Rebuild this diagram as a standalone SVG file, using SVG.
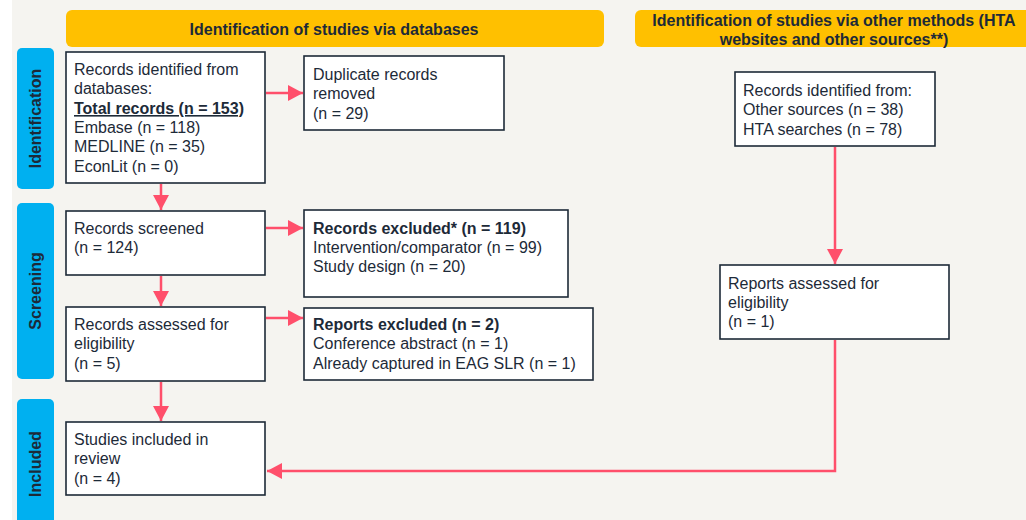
<svg xmlns="http://www.w3.org/2000/svg" width="1026" height="520" viewBox="0 0 1026 520">
<style>
.t{font-family:"Liberation Sans",Arial,sans-serif;font-size:16px;fill:#1d2a38}
.b{font-weight:bold}
.box{fill:#ffffff;stroke:#1d2a38;stroke-width:1.6}
.hdr{fill:#ffc000}
.lane{fill:#00b0f0}
.lt{font-family:"Liberation Sans",Arial,sans-serif;font-size:16px;font-weight:bold;fill:#1d2a38;text-anchor:middle}
.c{fill:none;stroke:#ff4f6b;stroke-width:2.5}
</style>
<defs>
<marker id="ah" markerUnits="userSpaceOnUse" markerWidth="16" markerHeight="16" refX="15" refY="8" orient="auto">
<path d="M0,0 L15,8 L0,16 Z" fill="#ff4f6b"/>
</marker>
</defs>
<rect x="0" y="0" width="1026" height="520" fill="#ffffff"/>
<rect x="12" y="0" width="1014" height="520" fill="#f5f4f0"/>

<g id="header-databases">
<rect class="hdr" x="66" y="10" width="538" height="37" rx="6"/>
<text class="t b" x="334" y="35" text-anchor="middle">Identification of studies via databases</text>
</g>
<g id="header-other">
<rect class="hdr" x="635" y="10" width="400" height="37" rx="6"/>
<text class="t b" x="834" y="26" text-anchor="middle">Identification of studies via other methods (HTA</text>
<text class="t b" x="834" y="45" text-anchor="middle">websites and other sources**)</text>
</g>

<g id="lane-identification">
<rect class="lane" x="17" y="48" width="37" height="141" rx="5"/>
<text class="lt" transform="translate(41,118.5) rotate(-90)">Identification</text>
</g>
<g id="lane-screening">
<rect class="lane" x="17" y="203" width="37" height="176" rx="5"/>
<text class="lt" transform="translate(41,291) rotate(-90)">Screening</text>
</g>
<g id="lane-included">
<rect class="lane" x="17" y="399" width="37" height="130" rx="5"/>
<text class="lt" transform="translate(41,464) rotate(-90)">Included</text>
</g>

<g id="records-identified">
<rect class="box" x="66" y="52" width="199" height="131"/>
<text class="t" x="74" y="75">Records identified from</text>
<text class="t" x="74" y="94">databases:</text>
<text class="t b" x="74" y="114" text-decoration="underline">Total records (n = 153)</text>
<text class="t" x="74" y="133">Embase (n = 118)</text>
<text class="t" x="74" y="152">MEDLINE (n = 35)</text>
<text class="t" x="74" y="172">EconLit (n = 0)</text>
</g>
<g id="duplicates">
<rect class="box" x="304" y="56" width="200" height="74"/>
<text class="t" x="313" y="80">Duplicate records</text>
<text class="t" x="313" y="99">removed</text>
<text class="t" x="313" y="119">(n = 29)</text>
</g>
<g id="screened">
<rect class="box" x="66" y="211" width="199" height="64"/>
<text class="t" x="74" y="234">Records screened</text>
<text class="t" x="74" y="253">(n = 124)</text>
</g>
<g id="excluded">
<rect class="box" x="304" y="210" width="264" height="87"/>
<text class="t b" x="313" y="234">Records excluded* (n = 119)</text>
<text class="t" x="313" y="253">Intervention/comparator (n = 99)</text>
<text class="t" x="313" y="272">Study design (n = 20)</text>
</g>
<g id="assessed">
<rect class="box" x="66" y="307" width="199" height="74"/>
<text class="t" x="74" y="330">Records assessed for</text>
<text class="t" x="74" y="349">eligibility</text>
<text class="t" x="74" y="369">(n = 5)</text>
</g>
<g id="reports-excluded">
<rect class="box" x="304" y="308" width="289" height="72"/>
<text class="t b" x="313" y="330">Reports excluded (n = 2)</text>
<text class="t" x="313" y="349">Conference abstract (n = 1)</text>
<text class="t" x="313" y="369">Already captured in EAG SLR (n = 1)</text>
</g>
<g id="included">
<rect class="box" x="66" y="422" width="199" height="73"/>
<text class="t" x="74" y="445">Studies included in</text>
<text class="t" x="74" y="464">review</text>
<text class="t" x="74" y="484">(n = 4)</text>
</g>
<g id="other-records">
<rect class="box" x="735" y="72" width="200" height="74"/>
<text class="t" x="743" y="96">Records identified from:</text>
<text class="t" x="743" y="115">Other sources (n = 38)</text>
<text class="t" x="743" y="135">HTA searches (n = 78)</text>
</g>
<g id="reports-assessed">
<rect class="box" x="720" y="265" width="229" height="74"/>
<text class="t" x="728" y="289">Reports assessed for</text>
<text class="t" x="728" y="308">eligibility</text>
<text class="t" x="728" y="327">(n = 1)</text>
</g>

<g id="connectors">
<line class="c" x1="266" y1="93" x2="303" y2="93" marker-end="url(#ah)"/>
<line class="c" x1="161" y1="184" x2="161" y2="210" marker-end="url(#ah)"/>
<line class="c" x1="266" y1="228" x2="303" y2="228" marker-end="url(#ah)"/>
<line class="c" x1="161" y1="276" x2="161" y2="306" marker-end="url(#ah)"/>
<line class="c" x1="266" y1="318" x2="303" y2="318" marker-end="url(#ah)"/>
<line class="c" x1="161" y1="382" x2="161" y2="421" marker-end="url(#ah)"/>
<line class="c" x1="835" y1="147" x2="835" y2="264" marker-end="url(#ah)"/>
<polyline class="c" points="835,340 835,471 267,471" marker-end="url(#ah)"/>
</g>
</svg>
